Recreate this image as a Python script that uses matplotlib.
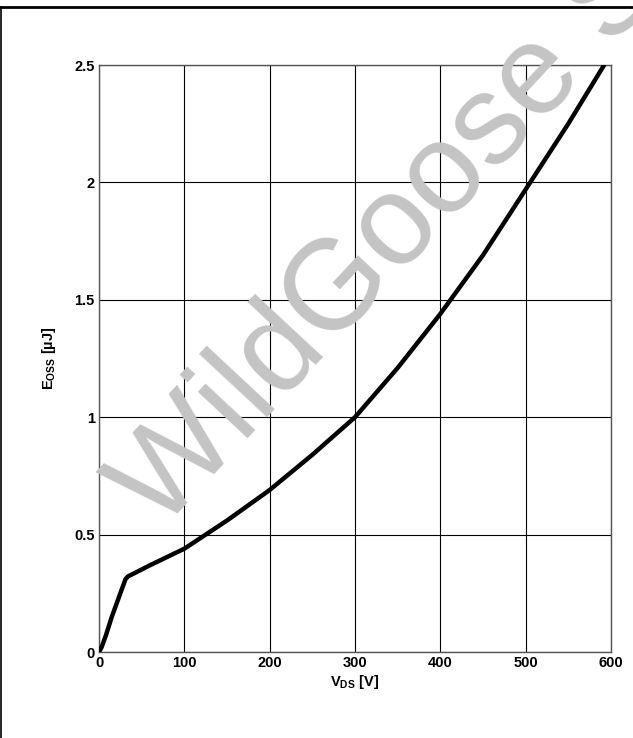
import matplotlib
matplotlib.use("Agg")
import matplotlib.pyplot as plt
from matplotlib.lines import Line2D

# Output energy vs drain-source voltage
vds = [0, 3, 8, 15, 25, 31, 34, 40, 60, 80, 100, 150, 200, 250, 300, 350, 400, 450, 500, 550, 592]
eoss = [0, 0.02, 0.07, 0.15, 0.25, 0.31, 0.322, 0.333, 0.37, 0.405, 0.44, 0.56, 0.69, 0.84, 1.00,
        1.21, 1.44, 1.69, 1.97, 2.25, 2.50]

x_ticks = [0, 100, 200, 300, 400, 500, 600]
y_ticks = [0, 0.5, 1, 1.5, 2, 2.5]
y_labels = ["0", "0.5", "1", "1.5", "2", "2.5"]

plt.rcParams["font.family"] = "Liberation Sans"

fig = plt.figure(figsize=(6.33, 7.38), dpi=100)
ax = fig.add_axes([0.1564, 0.1165, 0.8088, 0.7954])

ax.plot(vds, eoss, color="black", linewidth=3.2, solid_capstyle="round", zorder=5)

ax.set_xlim(0, 600)
ax.set_ylim(0, 2.5)
ax.set_xticks(x_ticks)
ax.set_yticks(y_ticks)
ax.set_yticklabels(y_labels)
ax.tick_params(length=0, pad=3, labelsize=10.5)
for lbl in ax.get_xticklabels() + ax.get_yticklabels():
    lbl.set_fontweight("bold")
ax.grid(True, color="black", linewidth=0.8)
ax.set_axisbelow(True)
for s in ax.spines.values():
    s.set_color("#555555")
    s.set_linewidth(1.0)

ax.set_xlabel(r"V$_\mathregular{DS}$ [V]", fontsize=10.5, fontweight="bold", labelpad=2)
ax.set_ylabel(r"E$_\mathregular{OSS}$ [µJ]", fontsize=10.5, fontweight="bold", labelpad=12)

# watermark (above the grid, below the curve)
ax.text(0.2528, 0.279, "WildGoose S", transform=fig.transFigure, fontsize=92,
        color="#c4c4c4", rotation=47, rotation_mode="anchor", ha="left",
        va="baseline", zorder=3, clip_on=False)

# page frame lines
fig.add_artist(Line2D([0, 1], [0.9905, 0.9905], color="black", linewidth=2, zorder=-1))
fig.add_artist(Line2D([0.002, 0.002], [0, 0.9905], color="black", linewidth=1.2, zorder=-1))

fig.savefig("out.png", dpi=100)
